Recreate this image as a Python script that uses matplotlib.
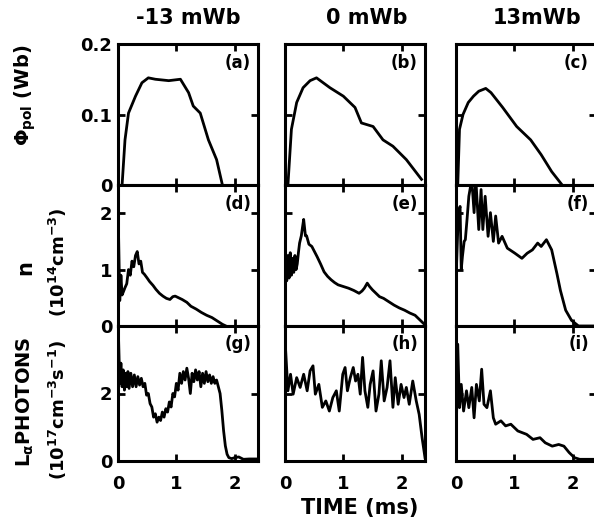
import matplotlib
matplotlib.use("Agg")
import matplotlib.pyplot as plt

plt.rcParams['font.family'] = ['DejaVu Sans']
plt.rcParams['font.weight'] = 'bold'
plt.rcParams['mathtext.fontset'] = 'dejavusans'
plt.rcParams['mathtext.default'] = 'bf'

# column titles (bias flux) and panel tags
col_titles = ['-13 mWb', '0 mWb', '13mWb']
panel_tags = [['(a)', '(b)', '(c)'], ['(d)', '(e)', '(f)'], ['(g)', '(h)', '(i)']]

# row 1: poloidal flux (Wb)
t_a = [0.07, 0.12, 0.18, 0.30, 0.41, 0.52, 0.64, 0.87, 1.07, 1.21, 1.29, 1.41, 1.55, 1.69, 1.79]
flux_a = [0, 0.064, 0.102, 0.126, 0.145, 0.152, 0.150, 0.148, 0.150, 0.131, 0.112, 0.102, 0.064, 0.036, 0]
t_b = [0.05, 0.11, 0.20, 0.31, 0.43, 0.54, 0.77, 1.0, 1.20, 1.31, 1.51, 1.68, 1.85, 2.08, 2.34]
flux_b = [0, 0.079, 0.117, 0.138, 0.148, 0.152, 0.138, 0.126, 0.110, 0.088, 0.083, 0.064, 0.055, 0.036, 0.008]
t_c = [0.03, 0.06, 0.12, 0.21, 0.30, 0.39, 0.51, 0.60, 0.80, 1.04, 1.28, 1.46, 1.64, 1.82]
flux_c = [0, 0.079, 0.100, 0.117, 0.126, 0.133, 0.137, 0.131, 0.110, 0.083, 0.064, 0.043, 0.019, 0]

# row 2: density (1e14 cm^-3)
t_d = [0.0, 0.01, 0.03, 0.05, 0.07, 0.09, 0.12, 0.15, 0.18, 0.21, 0.24, 0.27, 0.30, 0.33,
       0.36, 0.39, 0.42, 0.45, 0.50, 0.54, 0.60, 0.65, 0.71, 0.77, 0.83, 0.89, 0.94, 0.98,
       1.04, 1.10, 1.18, 1.25, 1.34, 1.43, 1.52, 1.61, 1.70, 1.79, 1.85]
dens_d = [0.0, 1.6, 0.45, 0.9, 0.55, 0.6, 0.68, 0.75, 1.0, 0.9, 1.15, 1.05, 1.25, 1.32,
          1.1, 1.15, 0.95, 0.92, 0.85, 0.79, 0.72, 0.65, 0.58, 0.53, 0.49, 0.47, 0.52, 0.53,
          0.5, 0.47, 0.42, 0.35, 0.3, 0.24, 0.19, 0.15, 0.09, 0.03, 0.0]
t_e = [0.0, 0.01, 0.03, 0.05, 0.07, 0.09, 0.11, 0.13, 0.15, 0.17, 0.19, 0.21, 0.23, 0.25,
       0.28, 0.30, 0.32, 0.35, 0.37, 0.41, 0.46, 0.55, 0.61, 0.67, 0.73, 0.79, 0.85, 0.91,
       1.0, 1.09, 1.18, 1.27, 1.32, 1.36, 1.41, 1.45, 1.50, 1.54, 1.62, 1.69, 1.78, 1.87,
       1.96, 2.05, 2.14, 2.23, 2.32, 2.40]
dens_e = [0.0, 1.3, 0.8, 1.25, 0.85, 1.3, 0.9, 1.2, 0.95, 1.25, 1.0, 1.1, 1.3, 1.47,
          1.6, 1.75, 1.89, 1.6, 1.6, 1.45, 1.41, 1.23, 1.1, 0.96, 0.88, 0.82, 0.77, 0.73,
          0.7, 0.67, 0.63, 0.58, 0.62, 0.67, 0.76, 0.7, 0.64, 0.6, 0.52, 0.49, 0.43, 0.37,
          0.32, 0.28, 0.23, 0.19, 0.1, 0.02]
t_f = [0.0, 0.01, 0.04, 0.07, 0.09, 0.11, 0.14, 0.16, 0.19, 0.22, 0.27, 0.31, 0.34, 0.39,
       0.43, 0.46, 0.50, 0.55, 0.59, 0.64, 0.68, 0.73, 0.79, 0.88, 1.01, 1.13, 1.22, 1.31,
       1.40, 1.46, 1.55, 1.64, 1.73, 1.79, 1.88, 1.98, 2.10, 2.40]
dens_f = [0.0, 1.1, 2.0, 2.12, 1.0, 1.23, 1.5, 1.53, 1.9, 2.3, 2.6, 2.01, 2.6, 1.71,
          2.42, 1.71, 2.30, 1.59, 2.01, 1.50, 1.95, 1.47, 1.59, 1.38, 1.29, 1.20, 1.29, 1.35,
          1.47, 1.41, 1.53, 1.35, 0.93, 0.63, 0.28, 0.10, 0.0, 0.0]

# row 3: L-alpha photons (1e17 cm^-3 s^-1)
t_g = [0.0, 0.01, 0.03, 0.05, 0.07, 0.09, 0.11, 0.13, 0.15, 0.17, 0.19, 0.22, 0.25, 0.28,
       0.31, 0.34, 0.37, 0.40, 0.43, 0.46, 0.49, 0.52, 0.55, 0.58, 0.61, 0.64, 0.67, 0.70,
       0.73, 0.76, 0.79, 0.82, 0.85, 0.88, 0.91, 0.94, 0.97, 1.00, 1.03, 1.06, 1.09, 1.12,
       1.15, 1.18, 1.21, 1.24, 1.27, 1.30, 1.33, 1.36, 1.39, 1.42, 1.45, 1.48, 1.51, 1.54,
       1.57, 1.60, 1.63, 1.66, 1.69, 1.72, 1.75, 1.78, 1.81, 1.84, 1.87, 1.90, 1.95, 2.0,
       2.07, 2.15, 2.25, 2.4]
lya_g = [0.0, 3.6, 2.3, 2.9, 2.2, 2.7, 2.1, 2.6, 2.2, 2.65, 2.15, 2.6, 2.2, 2.55,
         2.2, 2.5, 2.25, 2.45, 2.2, 2.3, 1.95, 2.0, 1.7, 1.6, 1.3, 1.4, 1.15, 1.3,
         1.2, 1.45, 1.3, 1.55, 1.45, 1.75, 1.6, 2.0, 1.9, 2.3, 2.1, 2.6, 2.3, 2.65,
         2.4, 2.75, 2.45, 2.0, 2.6, 2.35, 2.7, 2.4, 2.65, 2.2, 2.6, 2.3, 2.65, 2.35,
         2.55, 2.3, 2.5, 2.3, 2.4, 2.2, 2.0, 1.5, 0.9, 0.45, 0.2, 0.1, 0.07, 0.1,
         0.12, 0.05, 0.06, 0.06]
t_h = [0.0, 0.005, 0.05, 0.095, 0.14, 0.20, 0.26, 0.32, 0.38, 0.43, 0.48, 0.52, 0.58, 0.64,
       0.70, 0.76, 0.82, 0.88, 0.93, 0.99, 1.03, 1.07, 1.12, 1.17, 1.21, 1.25, 1.29, 1.33,
       1.37, 1.42, 1.46, 1.51, 1.56, 1.61, 1.65, 1.70, 1.75, 1.80, 1.85, 1.89, 1.94, 1.99,
       2.04, 2.08, 2.13, 2.19, 2.25, 2.30, 2.35, 2.40]
lya_h = [0.3, 3.46, 2.08, 2.57, 1.98, 2.47, 2.18, 2.57, 2.08, 2.67, 2.82, 1.98, 2.27, 1.59,
         1.78, 1.48, 1.88, 2.08, 1.48, 2.57, 2.77, 2.08, 2.47, 2.77, 2.37, 2.57, 1.98, 3.07,
         2.08, 1.59, 2.27, 2.67, 1.48, 1.98, 2.97, 1.78, 2.18, 2.97, 1.59, 2.47, 1.68, 2.27,
         1.88, 2.18, 1.68, 2.37, 1.78, 1.38, 0.69, 0.10]
t_i = [0.0, 0.03, 0.06, 0.09, 0.13, 0.18, 0.22, 0.27, 0.31, 0.35, 0.40, 0.44, 0.48, 0.53,
       0.59, 0.64, 0.68, 0.77, 0.85, 0.94, 1.06, 1.21, 1.32, 1.44, 1.53, 1.65, 1.76, 1.85,
       1.94, 2.03, 2.12, 2.41]
lya_i = [0.3, 3.46, 1.58, 2.27, 1.48, 2.08, 1.58, 2.18, 1.28, 2.27, 1.78, 2.72, 1.68, 1.58,
         2.08, 1.28, 1.09, 1.19, 1.04, 1.09, 0.89, 0.79, 0.64, 0.69, 0.54, 0.44, 0.49, 0.44,
         0.25, 0.10, 0.05, 0.05]

times = [[t_a, t_b, t_c], [t_d, t_e, t_f], [t_g, t_h, t_i]]
values = [[flux_a, flux_b, flux_c], [dens_d, dens_e, dens_f], [lya_g, lya_h, lya_i]]

row_ylim = [(0, 0.2), (0, 2.5), (0, 4)]
row_yticks = [[0, 0.1, 0.2], [0, 1, 2], [0, 2]]
row_yticklabels = [['0', '0.1', '0.2'], ['0', '1', '2'], ['0', '2']]
x_ticks = [0, 1, 2]

W, H = 594, 524
fig = plt.figure(figsize=(W / 100, H / 100), dpi=100)

col_left = [118, 285, 456]
col_width = 140
row_top = [44, 185, 326]
row_bot = [185, 326, 461]

for r in range(3):
    for c in range(3):
        ax = fig.add_axes([col_left[c] / W, 1 - row_bot[r] / H,
                           col_width / W, (row_bot[r] - row_top[r]) / H])
        ax.plot(times[r][c], values[r][c], color='black', lw=2.0, solid_joinstyle='round')
        ax.set_xlim(0, 2.4)
        ax.set_ylim(*row_ylim[r])
        ax.set_xticks(x_ticks)
        ax.set_yticks(row_yticks[r])
        for sp in ax.spines.values():
            sp.set_linewidth(2.2)
        ax.tick_params(direction='in', top=True, right=True, length=5, width=2.0,
                       labelsize=13, pad=4)
        ax.tick_params(axis='x', pad=10)
        if c == 0:
            ax.set_yticklabels(row_yticklabels[r], fontweight='heavy')
        else:
            ax.set_yticklabels([])
        if r == 2:
            ax.set_xticklabels(['0', '1', '2'], fontweight='heavy')
        else:
            ax.set_xticklabels([])
        ax.text(0.95, 0.93, panel_tags[r][c], transform=ax.transAxes, ha='right',
                va='top', fontsize=12, fontweight='heavy')

title_x = [188, 367, 537]
for c in range(3):
    fig.text(title_x[c] / W, 1 - 18 / H, col_titles[c], ha='center', va='center',
             fontsize=15, fontweight='heavy')

fig.text(360 / W, 1 - 508 / H, 'TIME (ms)', ha='center', va='center',
         fontsize=15, fontweight='heavy')

# y-axis labels
fig.text(25 / W, 1 - 95 / H, r'$\Phi_{pol}$ (Wb)', rotation=90, ha='center',
         va='center', fontsize=14, fontweight='heavy')
fig.text(25 / W, 1 - 268 / H, 'n', rotation=90, ha='center', va='center',
         fontsize=15, fontweight='heavy')
fig.text(58 / W, 1 - 262 / H, r'(10$^{14}$cm$^{-3}$)', rotation=90, ha='center',
         va='center', fontsize=13, fontweight='heavy')
fig.text(25 / W, 1 - 402 / H, r'L$_{\alpha}$PHOTONS', rotation=90, ha='center',
         va='center', fontsize=14, fontweight='heavy')
fig.text(58 / W, 1 - 410 / H, r'(10$^{17}$cm$^{-3}$s$^{-1}$)', rotation=90, ha='center',
         va='center', fontsize=13, fontweight='heavy')

fig.savefig('out.png', dpi=100)
